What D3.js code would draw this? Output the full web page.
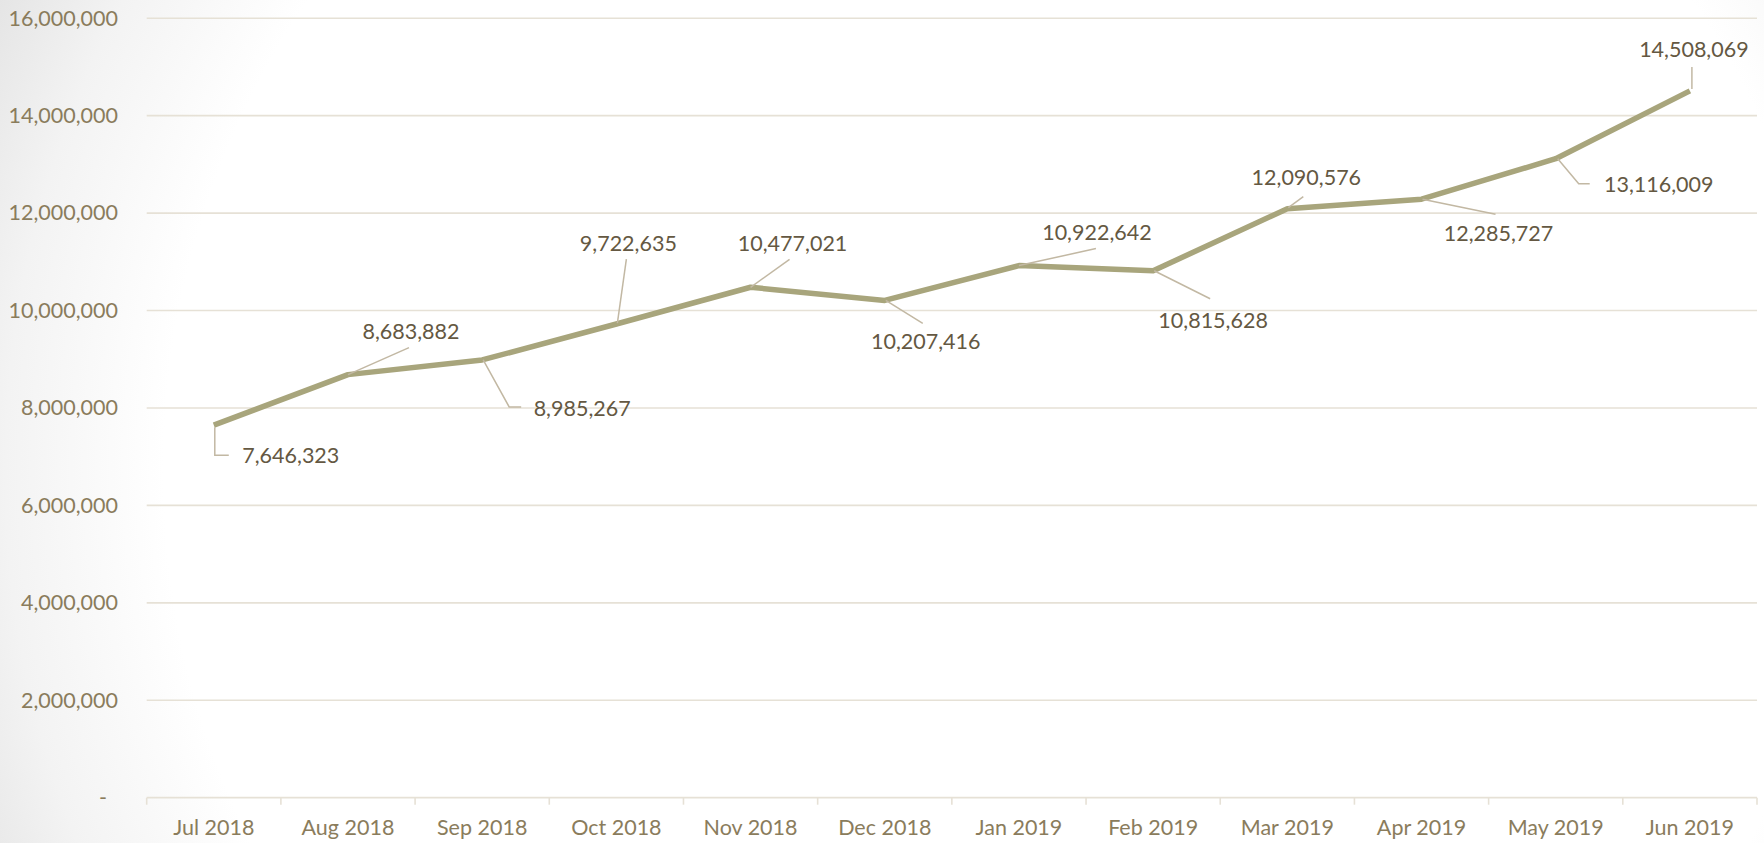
<!DOCTYPE html>
<html>
<head>
<meta charset="utf-8">
<script src="https://cdn.jsdelivr.net/npm/d3@7"></script>
<style>
  html, body { margin: 0; padding: 0; background: #fff; }
  svg { display: block; }
</style>
</head>
<body>
<svg id="chart" width="1764" height="843"></svg>
<script>
// ---- data ----
const categories = ["Jul 2018","Aug 2018","Sep 2018","Oct 2018","Nov 2018","Dec 2018",
                    "Jan 2019","Feb 2019","Mar 2019","Apr 2019","May 2019","Jun 2019"];
const values = [7646323, 8683882, 8985267, 9722635, 10477021, 10207416,
                10922642, 10815628, 12090576, 12285727, 13116009, 14508069];
const yTicks = [0, 2000000, 4000000, 6000000, 8000000, 10000000, 12000000, 14000000, 16000000];
const yMax = 16000000;

// ---- label placement (pixel offsets from each point) ----
const labelOffsets = [[77,30],[63,-43],[100,48],[12,-81],[42,-44],[41,41],
                      [78,-33],[60,49],[19,-31],[77,34],[103,26],[4,-42]];
const leaderPaths = [
  [[1,2],[1,30],[15,30]],
  [[0,0],[61,-27]],
  [[1,0],[27,47],[39,47]],
  [[1,-1],[10,-65]],
  [[0,0],[39,-28]],
  [[1,0],[38,23]],
  [[0,0],[77,-17]],
  [[1,0],[57,28]],
  [[1,-1],[16,-12]],
  [[1,0],[74,15]],
  [[2,0],[23,25],[34,25]],
  [[2,-2],[2,-24]]
];

// ---- styles ----
const FONT = "Lato, 'Open Sans', sans-serif";
const FS = "21.5px";
const axisColor = "#8a7c5c";
const labelColor = "#645842";
const lineColor = "#a8a57c";
const leaderColor = "#c2b8a3";
const gridColor = "#e6e1d6";

const W = 1764, H = 843;
const plot = { left: 146.7, right: 1757, top: 18.2, bottom: 797.7 };

const svg = d3.select("#chart");

// background vignette
const defs = svg.append("defs");
const rg = defs.append("radialGradient").attr("id", "bg")
  .attr("gradientUnits", "userSpaceOnUse")
  .attr("cx", 1000).attr("cy", 470).attr("r", 1130);
rg.append("stop").attr("offset", "0.74").attr("stop-color", "#ffffff");
rg.append("stop").attr("offset", "0.88").attr("stop-color", "#f3f3f3");
rg.append("stop").attr("offset", "1").attr("stop-color", "#e2e2e2");
svg.append("rect").attr("width", W).attr("height", H).attr("fill", "url(#bg)");

const x = d3.scaleBand().domain(categories).range([plot.left, plot.right]).padding(0);
const y = d3.scaleLinear().domain([0, yMax]).range([plot.bottom, plot.top]);
const cx = c => x(c) + x.bandwidth() / 2;

// gridlines
svg.append("g").selectAll("line")
  .data(yTicks.filter(d => d > 0))
  .join("line")
  .attr("x1", plot.left).attr("x2", plot.right)
  .attr("y1", d => y(d)).attr("y2", d => y(d))
  .attr("stroke", gridColor).attr("stroke-width", 1.6);

// y axis labels
const fmt = d3.format(",");
const yAxis = svg.append("g")
  .attr("transform", `translate(${plot.left},0)`)
  .call(d3.axisLeft(y).tickValues(yTicks).tickSize(0).tickPadding(28.7)
        .tickFormat(d => d === 0 ? "-" : fmt(d)));
yAxis.select(".domain").remove();
yAxis.selectAll("text")
  .attr("fill", axisColor)
  .style("font-family", FONT).style("font-size", FS)
  .attr("dx", d => d === 0 ? -11 : 0);

// x axis line & boundary ticks
svg.append("line")
  .attr("x1", plot.left).attr("x2", plot.right)
  .attr("y1", y(0)).attr("y2", y(0))
  .attr("stroke", gridColor).attr("stroke-width", 1.8);
const bounds = categories.map(c => x(c)).concat([plot.right]);
svg.append("g").selectAll("line")
  .data(bounds).join("line")
  .attr("x1", d => d).attr("x2", d => d)
  .attr("y1", y(0)).attr("y2", y(0) + 7)
  .attr("stroke", gridColor).attr("stroke-width", 1.6);

const xAxis = svg.append("g")
  .attr("transform", `translate(0,${y(0)})`)
  .call(d3.axisBottom(x).tickSize(0).tickPadding(22));
xAxis.select(".domain").remove();
xAxis.selectAll("text")
  .attr("fill", axisColor)
  .style("font-family", FONT).style("font-size", FS);

// line
const pts = categories.map((c, i) => ({ c, v: values[i], i }));
svg.append("path")
  .datum(pts)
  .attr("fill", "none")
  .attr("stroke", lineColor)
  .attr("stroke-width", 5.5)
  .attr("stroke-linejoin", "round")
  .attr("stroke-linecap", "butt")
  .attr("d", d3.line().x(d => cx(d.c)).y(d => y(d.v)));

// leader lines
svg.append("g").selectAll("polyline")
  .data(pts).join("polyline")
  .attr("points", d => leaderPaths[d.i].map(p => [cx(d.c) + p[0], y(d.v) + p[1]].join(",")).join(" "))
  .attr("fill", "none")
  .attr("stroke", leaderColor)
  .attr("stroke-width", 1.5);

// data labels
svg.append("g").selectAll("text")
  .data(pts).join("text")
  .attr("x", d => cx(d.c) + labelOffsets[d.i][0])
  .attr("y", d => y(d.v) + labelOffsets[d.i][1])
  .attr("dy", "0.36em")
  .attr("text-anchor", "middle")
  .attr("fill", labelColor)
  .style("font-family", FONT).style("font-size", FS)
  .text(d => fmt(d.v));
</script>
</body>
</html>
